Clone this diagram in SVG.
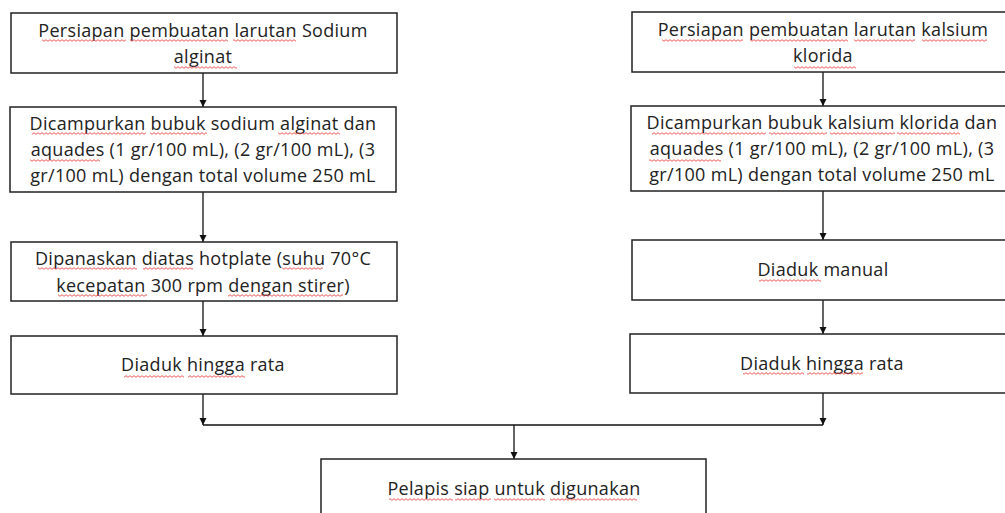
<svg xmlns="http://www.w3.org/2000/svg" width="1005" height="513" viewBox="0 0 1005 513">
<style>
.box{fill:#fff;stroke:#222;stroke-width:1.5}
.t{font-family:"Open Sans",Lato,"Liberation Sans",sans-serif;font-size:18px;letter-spacing:0.3px;fill:#222;text-anchor:middle}
.c{stroke:#111;stroke-width:1.3;fill:none}
.sq{fill:url(#wave)}
</style>
<defs>
<marker id="ah" markerWidth="8" markerHeight="8" refX="7" refY="4" orient="auto" markerUnits="userSpaceOnUse">
<path d="M0,0.5 L7,4 L0,7.5 Z" fill="#111"/>
</marker>
<pattern id="wave" patternUnits="userSpaceOnUse" x="0" y="0" width="4" height="3">
<path d="M0,2.3 L2,0.7 L4,2.3" fill="none" stroke="#e84a4a" stroke-width="0.9"/>
</pattern>
</defs>
<rect width="1005" height="513" fill="#fff"/>
<g id="connectors">
<line class="c" x1="203" y1="73" x2="203" y2="107" marker-end="url(#ah)"/>
<line class="c" x1="203" y1="192" x2="203" y2="242" marker-end="url(#ah)"/>
<line class="c" x1="203" y1="301" x2="203" y2="336" marker-end="url(#ah)"/>
<line class="c" x1="203" y1="394" x2="203" y2="425" marker-end="url(#ah)"/>
<line class="c" x1="823" y1="72" x2="823" y2="106" marker-end="url(#ah)"/>
<line class="c" x1="823" y1="191" x2="823" y2="240" marker-end="url(#ah)"/>
<line class="c" x1="823" y1="300" x2="823" y2="334" marker-end="url(#ah)"/>
<line class="c" x1="823" y1="393" x2="823" y2="425" marker-end="url(#ah)"/>
<line class="c" x1="203" y1="425" x2="823" y2="425"/>
<line class="c" x1="514" y1="425" x2="514" y2="459" marker-end="url(#ah)"/>
</g>
<g id="n1"><rect class="box" x="11" y="13" width="386" height="60"/>
<text class="t" x="203" y="37">Persiapan pembuatan larutan Sodium</text>
<text class="t" x="203" y="63">alginat</text>
<rect class="sq" x="42" y="39" width="84" height="3"/><rect class="sq" x="130" y="39" width="98" height="3"/><rect class="sq" x="233" y="39" width="63" height="3"/><rect class="sq" x="174" y="66" width="63" height="3"/></g>
<g id="n2"><rect class="box" x="10" y="107" width="386" height="85"/>
<text class="t" x="203" y="130">Dicampurkan bubuk sodium alginat dan</text>
<text class="t" x="203" y="156">aquades (1 gr/100 mL), (2 gr/100 mL), (3</text>
<text class="t" x="203" y="182">gr/100 mL) dengan total volume 250 mL</text>
<rect class="sq" x="32" y="132" width="114" height="3"/><rect class="sq" x="150" y="132" width="57" height="3"/><rect class="sq" x="278" y="132" width="62" height="3"/><rect class="sq" x="30" y="159" width="70" height="3"/></g>
<g id="n3"><rect class="box" x="11" y="242" width="386" height="59"/>
<text class="t" x="203" y="265">Dipanaskan diatas hotplate (suhu 70°C</text>
<text class="t" x="203" y="292">kecepatan 300 rpm dengan stirer)</text>
<rect class="sq" x="38" y="267" width="99" height="3"/><rect class="sq" x="143" y="267" width="50" height="3"/><rect class="sq" x="282" y="267" width="41" height="3"/><rect class="sq" x="58" y="294" width="89" height="3"/><rect class="sq" x="228" y="294" width="115" height="3"/></g>
<g id="n4"><rect class="box" x="11" y="336" width="386" height="58"/>
<text class="t" x="203" y="371">Diaduk hingga rata</text>
<rect class="sq" x="124" y="375" width="60" height="3"/><rect class="sq" x="188" y="375" width="57" height="3"/></g>
<g id="n5"><rect class="box" x="632" y="12" width="380" height="60"/>
<text class="t" x="823" y="36">Persiapan pembuatan larutan kalsium</text>
<text class="t" x="823" y="62">klorida</text>
<rect class="sq" x="662" y="39" width="81" height="3"/><rect class="sq" x="750" y="39" width="98" height="3"/><rect class="sq" x="854" y="39" width="61" height="3"/><rect class="sq" x="922" y="39" width="65" height="3"/><rect class="sq" x="794" y="66" width="62" height="3"/></g>
<g id="n6"><rect class="box" x="631" y="106" width="380" height="85"/>
<text class="t" x="822" y="129">Dicampurkan bubuk kalsium klorida dan</text>
<text class="t" x="822" y="155">aquades (1 gr/100 mL), (2 gr/100 mL), (3</text>
<text class="t" x="822" y="181">gr/100 mL) dengan total volume 250 mL</text>
<rect class="sq" x="652" y="132" width="114" height="3"/><rect class="sq" x="769" y="132" width="58" height="3"/><rect class="sq" x="830" y="132" width="65" height="3"/><rect class="sq" x="897" y="132" width="63" height="3"/><rect class="sq" x="649" y="159" width="72" height="3"/></g>
<g id="n7"><rect class="box" x="632" y="240" width="380" height="60"/>
<text class="t" x="823" y="276">Diaduk manual</text>
<rect class="sq" x="759" y="279" width="62" height="3"/></g>
<g id="n8"><rect class="box" x="630" y="334" width="380" height="59"/>
<text class="t" x="822" y="370">Diaduk hingga rata</text>
<rect class="sq" x="743" y="372" width="61" height="3"/><rect class="sq" x="807" y="372" width="56" height="3"/></g>
<g id="n9"><rect class="box" x="321" y="459" width="385" height="60"/>
<text class="t" x="514" y="495">Pelapis siap untuk digunakan</text>
<rect class="sq" x="389" y="498" width="64" height="3"/><rect class="sq" x="455" y="498" width="36" height="3"/><rect class="sq" x="494" y="498" width="51" height="3"/><rect class="sq" x="550" y="498" width="87" height="3"/></g>
</svg>
